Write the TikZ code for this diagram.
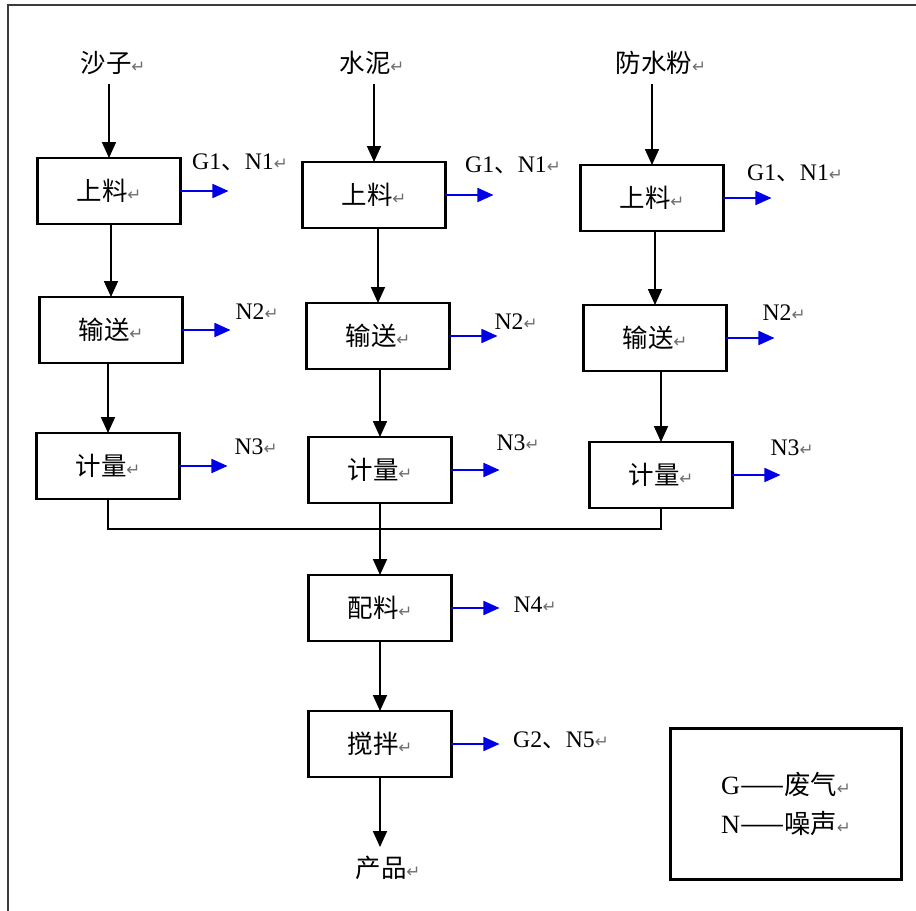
\documentclass[tikz,border=0pt]{standalone}
\usepackage{fontspec}
\setmainfont{Liberation Serif}
\newfontfamily\cjk{Noto Sans CJK SC}
\newfontfamily\dejavu{DejaVu Sans}
\usetikzlibrary{arrows.meta}
\definecolor{Ink}{HTML}{000000}
\definecolor{Emit}{HTML}{0000E6}
\definecolor{Frame}{HTML}{3C3C3C}
\definecolor{Mark}{HTML}{6E6E6E}
\newcommand{\retmark}{{\color{Mark}\dejavu\fontsize{9.5}{9.5}\selectfont ↵}}
\tikzset{
  stage/.style={
    draw=Ink, line width=1.3pt, minimum width=2.86cm, minimum height=1.32cm,
    inner sep=0pt, outer sep=0pt, font=\cjk\fontsize{14.5}{16}\selectfont
  },
  source/.style={inner sep=5pt, font=\cjk\fontsize{14.5}{16}\selectfont},
  tag/.style={inner sep=0pt, font=\fontsize{13.5}{15}\selectfont},
  legendbox/.style={
    draw=Ink, line width=1.3pt, minimum width=4.62cm, minimum height=3.02cm,
    align=left, font=\fontsize{15}{22.7}\selectfont
  },
  flow/.style={-{Triangle[length=3.2mm,width=2.8mm]}, line width=1pt, draw=Ink},
  link/.style={line width=1pt, draw=Ink},
  emitflow/.style={-{Triangle[length=3.2mm,width=2.8mm]}, line width=1pt, draw=Emit},
  frame/.style={line width=1.6pt, draw=Frame}
}
\begin{document}
\begin{tikzpicture}[x=0.02cm,y=-0.02cm]
  \useasboundingbox (0,0) rectangle (916,911);
  \clip (0,0) rectangle (916,911);
  \draw[frame] (8,5) rectangle (940,940);
  \node[source] (sand) at (113,63) {沙子\retmark};
  \node[source] (cement) at (372,63) {水泥\retmark};
  \node[source] (proof) at (661,63) {防水粉\retmark};
  \node[stage] (ld1) at (109,191) {上料\retmark};
  \node[stage] (ss1) at (111,330) {输送\retmark};
  \node[stage] (jl1) at (108,466) {计量\retmark};
  \node[stage] (ld2) at (374,195) {上料\retmark};
  \node[stage] (ss2) at (378,336) {输送\retmark};
  \node[stage] (jl2) at (380,470) {计量\retmark};
  \node[stage] (ld3) at (652,198) {上料\retmark};
  \node[stage] (ss3) at (655,338) {输送\retmark};
  \node[stage] (jl3) at (661,475) {计量\retmark};
  \node[stage] (pl) at (380,608) {配料\retmark};
  \node[stage] (jb) at (380,744) {搅拌\retmark};
  \node[source] (prod) at (388,868) {产品\retmark};
  \node[legendbox] (legend) at (786,804) {G{\cjk ——废气}\retmark\\N{\cjk ——噪声}\retmark};
  \coordinate (merge) at (380,529);
  \draw[flow] (ld1.north |- sand.south) -- (ld1.north);
  \draw[flow] (ld2.north |- cement.south) -- (ld2.north);
  \draw[flow] (ld3.north |- proof.south) -- (ld3.north);
  \foreach \a/\b in {ld1/ss1,ss1/jl1,ld2/ss2,ss2/jl2,ld3/ss3,ss3/jl3}
    \draw[flow] (\b.north |- \a.south) -- (\b.north);
  \draw[link] (jl1.south) |- (jl3.south |- merge) -- (jl3.south);
  \draw[flow] (jl2.south) -- (pl.north);
  \draw[flow] (pl.south) -- (jb.north);
  \draw[flow] (jb.south) -- (jb.south |- prod.north);
  \foreach \b in {ld1,ss1,jl1,ld2,ss2,jl2,ld3,ss3,jl3,pl,jb}
    \draw[emitflow] (\b.east) -- ++(48,0) coordinate (\b-out);
  \node[tag] (ld1-tag) at (240,162) {G1{\cjk 、}N1\retmark};
  \node[tag] (ld2-tag) at (513,165) {G1{\cjk 、}N1\retmark};
  \node[tag] (ld3-tag) at (795,173) {G1{\cjk 、}N1\retmark};
  \node[tag] (ss1-tag) at (257,312) {N2\retmark};
  \node[tag] (ss2-tag) at (516,322) {N2\retmark};
  \node[tag] (ss3-tag) at (784,313) {N2\retmark};
  \node[tag] (jl1-tag) at (256,447) {N3\retmark};
  \node[tag] (jl2-tag) at (518,443) {N3\retmark};
  \node[tag] (jl3-tag) at (792,448) {N3\retmark};
  \node[tag] (pl-tag) at (535,605) {N4\retmark};
  \node[tag] (jb-tag) at (561,740) {G2{\cjk 、}N5\retmark};
\end{tikzpicture}
\end{document}
